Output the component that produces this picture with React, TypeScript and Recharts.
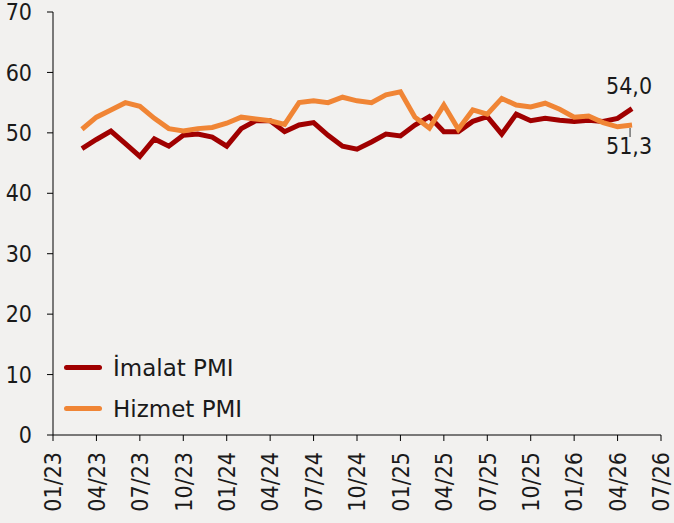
import React from 'react';
import { LineChart, Line, XAxis, YAxis, Legend } from 'recharts';

// monthly PMI readings, 03/23 .. 05/26
const months = [
  '03/23', '04/23', '05/23', '06/23', '07/23', '08/23', '09/23', '10/23', '11/23', '12/23',
  '01/24', '02/24', '03/24', '04/24', '05/24', '06/24', '07/24', '08/24', '09/24', '10/24', '11/24', '12/24',
  '01/25', '02/25', '03/25', '04/25', '05/25', '06/25', '07/25', '08/25', '09/25', '10/25', '11/25', '12/25',
  '01/26', '02/26', '03/26', '04/26', '05/26',
];
const imalat = [
  47.4, 48.9, 50.3, 48.2, 46.1, 49.0, 47.8, 49.6, 49.8, 49.3,
  47.8, 50.7, 52.0, 52.0, 50.2, 51.3, 51.7, 49.6, 47.8, 47.3, 48.5, 49.8,
  49.5, 51.3, 52.7, 50.2, 50.2, 51.9, 52.7, 49.8, 53.1, 52.0, 52.4, 52.1,
  51.9, 52.1, 51.9, 52.4, 54.0,
];
const hizmet = [
  50.6, 52.6, 53.8, 55.0, 54.4, 52.4, 50.7, 50.3, 50.7, 50.9,
  51.6, 52.6, 52.3, 52.0, 51.4, 55.0, 55.3, 55.0, 55.9, 55.3, 55.0, 56.3,
  56.8, 52.6, 50.8, 54.6, 50.6, 53.8, 53.1, 55.7, 54.6, 54.3, 54.9, 53.9,
  52.6, 52.8, 51.7, 51.0, 51.3,
];
const xTicks = ['01/23', '04/23', '07/23', '10/23', '01/24', '04/24', '07/24', '10/24', '01/25', '04/25', '07/25', '10/25', '01/26', '04/26', '07/26'];
const yTicks = [0, 10, 20, 30, 40, 50, 60, 70];

const RED = '#a00000';
const ORANGE = '#f08535';
const TEXT = '#1a1a1a';
const FONT = '"DejaVu Sans Condensed", "Liberation Sans", sans-serif';
const LEGEND_FONT = '"DejaVu Sans", Verdana, sans-serif';

const monthIndex = (s: string) => {
  const [mm, yy] = s.split('/').map(Number);
  return (yy - 23) * 12 + (mm - 1);
};

const data = months.map((m, i) => ({ t: monthIndex(m), imalat: imalat[i], hizmet: hizmet[i] }));
const last = data.length - 1;
const labelOf = (t: number) => xTicks.find(s => monthIndex(s) === t) ?? '';

const RotTick = (props: any) => {
  const { x, y, payload } = props;
  return (
    <g transform={`translate(${x},${y + 9}) rotate(-90)`}>
      <text textAnchor="end" dy="0.36em" fill={TEXT} fontSize={23} fontFamily={FONT}>
        {labelOf(payload.value)}
      </text>
    </g>
  );
};

const endLabel = (dyText: number, leader: boolean) => (props: any) => {
  const { x, y, index, value } = props;
  if (index !== last) return null;
  return (
    <g>
      {leader && <line x1={x - 2} y1={y + 3} x2={x - 2} y2={y + 12} stroke="#333" strokeWidth={1} />}
      <text x={x - 3} y={y + dyText} textAnchor="middle" fill={TEXT} fontSize={23} fontFamily={FONT}>
        {Number(value).toFixed(1).replace('.', ',')}
      </text>
    </g>
  );
};

const LegendBox = () => (
  <div style={{ fontFamily: LEGEND_FONT, fontSize: 23, color: TEXT }}>
    {[{ name: 'İmalat PMI', color: RED }, { name: 'Hizmet PMI', color: ORANGE }].map(s => (
      <div key={s.name} style={{ display: 'flex', alignItems: 'center', height: 41 }}>
        <span style={{ display: 'inline-block', width: 38, height: 5, borderRadius: 3, background: s.color, marginRight: 11 }} />
        {s.name}
      </div>
    ))}
  </div>
);

export default function App() {
  return (
    <div style={{ position: 'absolute', left: 0, top: 0, width: 674, height: 523, background: '#f2f1ef' }}>
      <LineChart width={674} height={523} data={data} margin={{ top: 12, right: 13, bottom: 0, left: 0 }}>
        <XAxis
          type="number"
          dataKey="t"
          domain={[0, 42]}
          ticks={xTicks.map(monthIndex)}
          interval={0}
          tick={<RotTick />}
          tickSize={6}
          height={88}
          stroke="#000"
        />
        <YAxis
          domain={[0, 70]}
          ticks={yTicks}
          interval={0}
          width={53}
          tickSize={6}
          tickMargin={15}
          stroke="#000"
          tick={{ fill: TEXT, fontSize: 23, fontFamily: FONT }}
        />
        <Legend
          layout="vertical"
          align="center"
          verticalAlign="middle"
          content={<LegendBox />}
          wrapperStyle={{ left: 64, top: 347, width: 220 }}
        />
        <Line dataKey="imalat" stroke={RED} strokeWidth={5} dot={false} isAnimationActive={false} label={endLabel(-15, false)} />
        <Line dataKey="hizmet" stroke={ORANGE} strokeWidth={5} dot={false} isAnimationActive={false} label={endLabel(29, true)} />
      </LineChart>
    </div>
  );
}
